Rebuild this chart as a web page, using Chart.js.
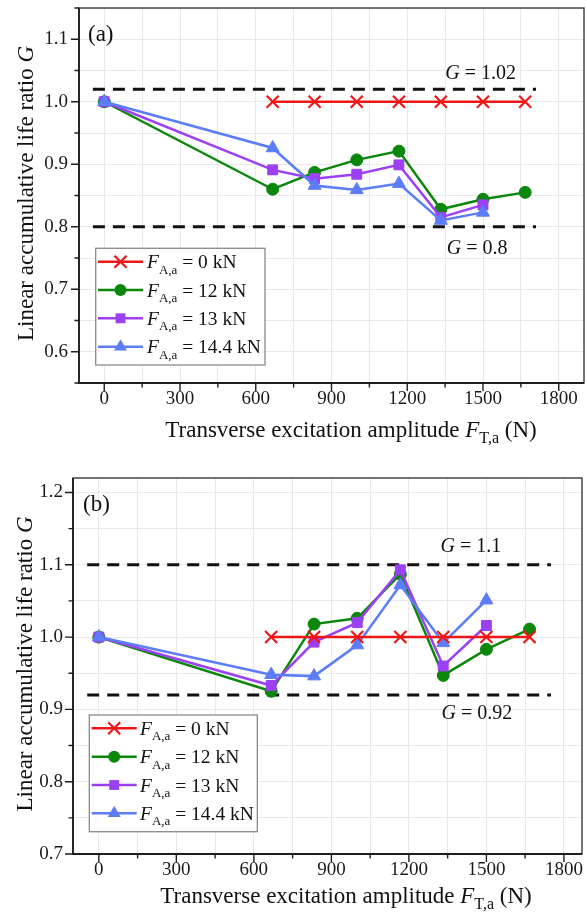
<!DOCTYPE html>
<html><head><meta charset="utf-8">
<script src="https://cdn.jsdelivr.net/npm/chart.js@4.4.0/dist/chart.umd.min.js"></script>
<style>
html,body{margin:0;padding:0;background:#fff;}
#wrap{position:relative;width:587px;height:912px;overflow:hidden;}
canvas{position:absolute;left:0;}
</style></head><body>
<div id="wrap">
<canvas id="cA" width="587" height="456" style="top:0;width:587px;height:456px"></canvas>
<canvas id="cB" width="587" height="456" style="top:456px;width:587px;height:456px"></canvas>
</div>
<script>
// ---------- data ----------
const xValues = [0, 667, 833, 1000, 1167, 1333, 1500, 1667];
const seriesLoads = ['0 kN', '12 kN', '13 kN', '14.4 kN'];
const xTickValues = [0, 150, 300, 450, 600, 750, 900, 1050, 1200, 1350, 1500, 1650, 1800];

// panel (a)
const redA    = [null, 1.0, 1.0, 1.0, 1.0, 1.0, 1.0, 1.0];
const greenA  = [1.0, 0.860, 0.887, 0.907, 0.921, 0.828, 0.844, 0.855];
const purpleA = [1.0, 0.891, 0.877, 0.884, 0.899, 0.815, 0.835];
const blueA   = [1.0, 0.926, 0.866, 0.859, 0.869, 0.810, 0.823];
const refValuesA = [1.02, 0.8];
const refSpanA = [-45, 1710];
const yTickValuesA = [0.55, 0.6, 0.65, 0.7, 0.75, 0.8, 0.85, 0.9, 0.95, 1.0, 1.05, 1.1, 1.15];

// panel (b)
const redB    = [null, 1.0, 1.0, 1.0, 1.0, 1.0, 1.0, 1.0];
const greenB  = [1.0, 0.925, 1.018, 1.026, 1.087, 0.947, 0.983, 1.011];
const purpleB = [1.0, 0.933, 0.993, 1.020, 1.093, 0.960, 1.016];
const blueB   = [1.0, 0.948, 0.946, 0.989, 1.072, 0.992, 1.051];
const refValuesB = [1.1, 0.92];
const refSpanB = [-45, 1750];
const yTickValuesB = [0.7, 0.75, 0.8, 0.85, 0.9, 0.95, 1.0, 1.05, 1.1, 1.15, 1.2];

// ---------- styles ----------
const SERIF = '"Liberation Serif", "Times New Roman", serif';
const STY = [
  {color:'#f01616', style:'crossRot', r:8.5, bw:2.2},
  {color:'#0b870b', style:'circle', r:6, bw:1},
  {color:'#9c40f4', style:'rect', r:7, bw:1},
  {color:'#5c7cf8', style:'triangle', r:7.5, bw:1}
];

function pts(ys){ return ys.map((y,i)=>({x:xValues[i], y:y})).filter(p=>p.y!==null); }

function fontOf(p, size){
  const s = p.sub ? Math.round(size*0.68) : size;
  return (p.italic ? 'italic ' : '') + s + 'px ' + SERIF;
}
function drawRich(ctx, parts, x, baseY, size, align){
  const widths = parts.map(p=>{ ctx.font = fontOf(p,size); return ctx.measureText(p.t).width; });
  const total = widths.reduce((a,b)=>a+b,0);
  let cx = align==='center' ? x-total/2 : (align==='right' ? x-total : x);
  ctx.textAlign = 'left'; ctx.textBaseline = 'alphabetic';
  parts.forEach((p,i)=>{
    ctx.font = fontOf(p,size);
    ctx.fillText(p.t, cx, baseY + (p.sub ? size*0.28 : 0));
    cx += widths[i];
  });
}
function drawMarker(ctx, st, x, y){
  ctx.save();
  ctx.fillStyle = st.color; ctx.strokeStyle = st.color; ctx.lineWidth = st.bw;
  const r = st.r;
  ctx.beginPath();
  if (st.style==='circle'){ ctx.arc(x,y,r,0,Math.PI*2); ctx.fill(); }
  else if (st.style==='rect'){ const s=Math.SQRT1_2*r; ctx.rect(x-s,y-s,2*s,2*s); ctx.fill(); }
  else if (st.style==='triangle'){
    ctx.moveTo(x, y-r);
    ctx.lineTo(x+Math.sin(2*Math.PI/3)*r, y-Math.cos(2*Math.PI/3)*r);
    ctx.lineTo(x+Math.sin(4*Math.PI/3)*r, y-Math.cos(4*Math.PI/3)*r);
    ctx.closePath(); ctx.fill();
  } else {
    const d = Math.SQRT1_2*r;
    ctx.moveTo(x-d,y-d); ctx.lineTo(x+d,y+d); ctx.moveTo(x+d,y-d); ctx.lineTo(x-d,y+d); ctx.stroke();
  }
  ctx.restore();
}

function makeDecor(cfg){
  return {
    id:'decor'+cfg.label,
    afterDraw(chart){
      const ctx = chart.ctx, a = chart.chartArea, xs = chart.scales.x, ys = chart.scales.y;
      ctx.save();
      // frame
      ctx.strokeStyle = '#3a3a3a'; ctx.lineWidth = 1.4;
      ctx.strokeRect(a.left, a.top, a.right-a.left, a.bottom-a.top);
      ctx.strokeStyle = '#1e1e1e'; ctx.lineWidth = 1.8;
      ctx.beginPath(); ctx.moveTo(a.left, a.top); ctx.lineTo(a.left, a.bottom); ctx.lineTo(a.right, a.bottom); ctx.stroke();
      // ticks
      ctx.lineWidth = 1.4; ctx.strokeStyle = '#1e1e1e';
      ctx.beginPath();
      xs.ticks.forEach(t=>{
        const px = xs.getPixelForValue(t.value);
        const len = (Math.round(t.value)%300===0) ? 8 : 4.5;
        ctx.moveTo(px, a.bottom); ctx.lineTo(px, a.bottom+len);
      });
      ys.ticks.forEach(t=>{
        const py = ys.getPixelForValue(t.value);
        const len = (Math.round(t.value*100)%10===0) ? 8 : 4.5;
        ctx.moveTo(a.left, py); ctx.lineTo(a.left-len, py);
      });
      ctx.stroke();
      ctx.fillStyle = '#111';
      // panel label
      ctx.font = '23px ' + SERIF; ctx.textAlign='left'; ctx.textBaseline='alphabetic';
      ctx.fillText(cfg.label, a.left + cfg.labelDx, a.top + cfg.labelDy);
      // reference labels
      cfg.refLabels.forEach(r=>{
        const px = xs.getPixelForValue(r.x), py = ys.getPixelForValue(r.y);
        drawRich(ctx, [{t:'G', italic:true},{t:' = '+r.text}], px, py+7, 20, 'center');
      });
      // x title
      drawRich(ctx, [{t:'Transverse excitation amplitude '},{t:'F', italic:true},{t:'T,a', sub:true},{t:' (N)'}],
        cfg.xTitleX, cfg.xTitleY + 8, 23, 'center');
      // y title
      ctx.save();
      ctx.translate(cfg.yTitleX, (a.top+a.bottom)/2 - 2);
      ctx.rotate(-Math.PI/2);
      drawRich(ctx, [{t:'Linear accumulative life ratio '},{t:'G', italic:true}], 0, 8, 23, 'center');
      ctx.restore();
      // legend
      const L = cfg.legend;
      ctx.fillStyle = '#fff'; ctx.fillRect(L.x, L.y, L.w, L.h);
      ctx.strokeStyle = '#8a8a8a'; ctx.lineWidth = 1.3; ctx.strokeRect(L.x, L.y, L.w, L.h);
      seriesLoads.forEach((name,i)=>{
        const st = STY[i], yy = L.rows[i];
        ctx.strokeStyle = st.color; ctx.lineWidth = 2.5;
        ctx.beginPath(); ctx.moveTo(L.lx0, yy); ctx.lineTo(L.lx1, yy); ctx.stroke();
        drawMarker(ctx, st, (L.lx0+L.lx1)/2, yy);
        ctx.fillStyle = '#111';
        drawRich(ctx, [{t:'F', italic:true},{t:'A,a', sub:true},{t:' = '+name}], L.tx, yy+6.5, 19.5, 'left');
      });
      ctx.restore();
    }
  };
}

function buildChart(id, series, refVals, refSpan, yTicks, xMin, xMax, yMin, yMax, geo, cfg){
  const datasets = [];
  const order = [0, 3, 2, 1];
  series.forEach((ys,i)=>{
    const st = STY[i];
    datasets.push({
      label: seriesLoads[i], data: pts(ys),
      borderColor: st.color, backgroundColor: st.color, borderWidth: 2.5,
      pointStyle: st.style, pointRadius: st.r, pointHoverRadius: st.r,
      pointBackgroundColor: st.color, pointBorderColor: st.color, pointBorderWidth: st.bw,
      tension: 0, fill: false, order: order[i]
    });
  });
  refVals.forEach(v=>{
    datasets.push({
      label: 'G = '+v, data: [{x:refSpan[0], y:v},{x:refSpan[1], y:v}],
      borderColor:'#111', borderWidth:3, borderDash:[12,8], pointRadius:0, fill:false, order:10
    });
  });
  return new Chart(document.getElementById(id), {
    type:'line',
    data:{datasets},
    options:{
      responsive:false, animation:false, devicePixelRatio:1,
      layout:{padding:{top:geo.top, right:geo.right, left:0, bottom:0}, autoPadding:false},
      plugins:{legend:{display:false}, tooltip:{enabled:false}},
      scales:{
        x:{type:'linear', min:xMin, max:xMax,
          afterBuildTicks(s){ s.ticks = xTickValues.map(v=>({value:v})); },
          afterFit(s){ s.height = geo.xH; s.paddingLeft = 0; s.paddingRight = 0; s.paddingTop = 0; s.paddingBottom = 0; },
          grid:{color:'#e9e9e9', lineWidth:1, drawTicks:false},
          border:{display:false},
          ticks:{autoSkip:false, maxRotation:0, padding:5, color:'#1a1a1a',
            font:{family:SERIF, size:19},
            callback:(v)=> (Math.round(v)%300===0 ? String(Math.round(v)) : '')}
        },
        y:{type:'linear', min:yMin, max:yMax,
          afterBuildTicks(s){ s.ticks = yTicks.map(v=>({value:v})); },
          afterFit(s){ s.width = geo.yW; s.paddingTop = 0; s.paddingBottom = 0; s.paddingLeft = 0; s.paddingRight = 0; },
          grid:{color:'#e9e9e9', lineWidth:1, drawTicks:false},
          border:{display:false},
          ticks:{autoSkip:false, padding:geo.yPad, color:'#1a1a1a',
            font:{family:SERIF, size:19},
            callback:(v)=> (Math.round(v*100)%10===0 ? v.toFixed(1) : '')}
        }
      }
    },
    plugins:[makeDecor(cfg)]
  });
}

buildChart('cA', [redA, greenA, purpleA, blueA], refValuesA, refSpanA, yTickValuesA,
  -100, 1900, 0.55, 1.15,
  {top:8, right:3, xH:73, yW:79, yPad:11},
  {label:'(a)', labelDx:9, labelDy:33,
   refLabels:[{text:'1.02', x:1491, y:1.047},{text:'0.8', x:1477, y:0.767}],
   xTitleX:351, xTitleY:429, yTitleX:25,
   legend:{x:95.7, y:248.3, w:169.3, h:116.7, rows:[261.7,290,318.3,346.7], lx0:98, lx1:143, tx:147}});

buildChart('cB', [redB, greenB, purpleB, blueB], refValuesB, refSpanB, yTickValuesB,
  -100, 1870, 0.7, 1.22,
  {top:22, right:5, xH:58, yW:73, yPad:10},
  {label:'(b)', labelDx:10, labelDy:33,
   refLabels:[{text:'1.1', x:1440, y:1.128},{text:'0.92', x:1463, y:0.897}],
   xTitleX:346, xTitleY:895-456, yTitleX:24,
   legend:{x:89.3, y:259, w:168, h:116.7, rows:[272.3,300.7,329,357.3], lx0:91.7, lx1:136.7, tx:140}});
</script>
</body></html>
